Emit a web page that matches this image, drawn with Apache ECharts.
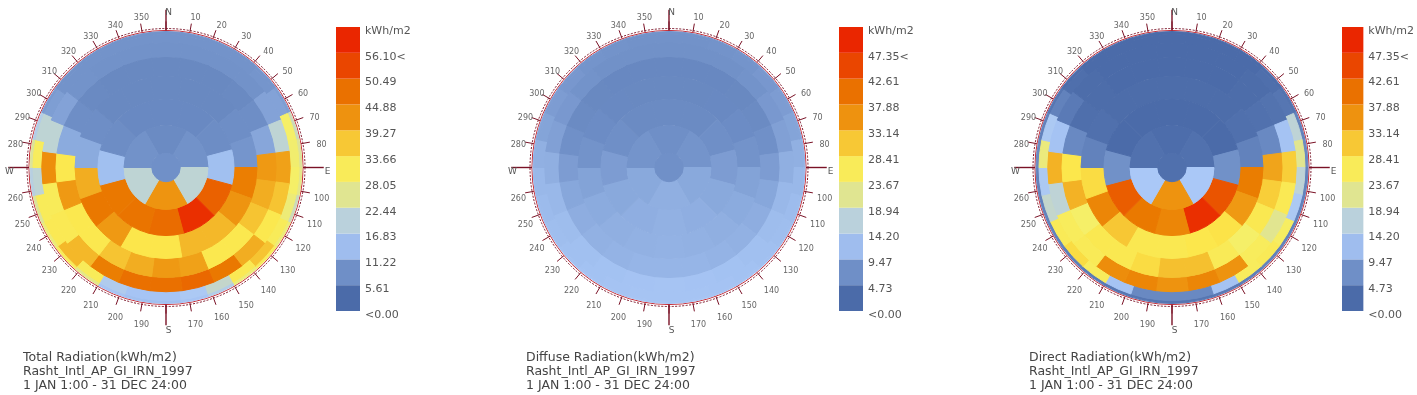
<!DOCTYPE html>
<html>
<head>
<meta charset="utf-8">
<title>Radiation Rose</title>
<script src="https://cdn.jsdelivr.net/npm/echarts@6/dist/echarts.min.js"></script>
<style>
    html, body { margin: 0; padding: 0; background: #fff; }
    #main { width: 1417px; height: 395px; }
</style>
</head>
<body>
<div id="main"></div>
<script>
// Sky patches: altitude edges of each band (outer band first) and how many patches sit in it
const bandAltitudes = [[0, 12], [12, 24], [24, 36], [36, 48], [48, 60], [60, 72], [72, 84], [84, 90]];
const bandCounts = [30, 30, 24, 24, 18, 12, 6, 1];

// Values per patch in kWh/m2, outer band first, clockwise from north
const totalValues = [
    [6.2, 6.2, 6.2, 6.2, 6.5, 7.5, 20, 22, 23, 20, 24, 28, 24, 15, 12, 11.5, 11.5, 12, 23, 28, 24, 22, 16, 22, 15, 7, 6.2, 6.2, 6.2, 6.2],
    [6.2, 6.2, 6.2, 6.2, 6.5, 8, 25, 24.5, 25, 24, 28, 34, 29, 19, 13, 12, 12, 14, 28, 35, 29, 28, 18, 27, 18, 7.5, 6.2, 6.2, 6.2, 6.2],
    [6, 6, 6, 6, 8, 18, 37, 34, 30, 36, 44, 46, 45, 45, 43, 35, 29, 28, 40, 18, 8, 6.2, 6, 6],
    [4.6, 4.6, 4.6, 4.8, 5.5, 8.5, 38, 36, 34, 30, 30, 37, 38, 36, 34, 30, 30, 38, 30, 9, 5.5, 4.8, 4.6, 4.6],
    [4.6, 4.6, 4.6, 5.5, 6.5, 43, 39, 35, 35, 31, 31, 38, 44, 36, 9, 5.5, 4.6, 4.6],
    [4.7, 4.7, 5.3, 11.5, 47, 54.5, 45.5, 44.5, 44, 11.5, 5.3, 4.7],
    [5, 6, 18, 39, 18, 6],
    [5.8]
];
const diffuseValues = [
    [5.2, 5.2, 5.3, 5.5, 5.8, 6.3, 7, 8.2, 9, 9.4, 9.6, 9.8, 10, 10.1, 10.2, 10.2, 10.2, 10.1, 10, 9.8, 9.6, 9.3, 9, 8.2, 7, 6.3, 5.8, 5.5, 5.3, 5.2],
    [5.1, 5.1, 5.2, 5.4, 5.7, 6.2, 6.9, 8.1, 8.9, 9.3, 9.5, 9.7, 9.9, 10, 10.1, 10.1, 10.1, 10, 9.9, 9.7, 9.5, 9.2, 8.9, 8.1, 6.9, 6.2, 5.7, 5.4, 5.2, 5.1],
    [5, 5, 5, 5.2, 5.8, 6.6, 8, 8.9, 9.4, 9.7, 9.9, 10, 10.1, 10, 9.9, 9.7, 9.4, 8.9, 8, 6.6, 5.8, 5.2, 5, 5],
    [3.8, 3.8, 3.8, 3.9, 4.2, 4.9, 6.2, 7.2, 7.8, 8.2, 8.4, 8.6, 8.6, 8.6, 8.4, 8.2, 7.8, 7.2, 6.2, 4.9, 4.2, 3.9, 3.8, 3.8],
    [3.9, 3.9, 4, 4.4, 5.2, 6.8, 7.6, 8, 8.2, 8.3, 8.2, 8, 7.6, 6.8, 5.2, 4.4, 4, 3.9],
    [4.2, 4.2, 4.8, 6.2, 7.4, 7.9, 8.2, 7.9, 7.4, 6.2, 4.8, 4.2],
    [4.8, 5.4, 7.4, 8, 7.4, 5.4],
    [4.9]
];
const directValues = [
    [0, 0, 0, 0, 0.3, 1, 3, 4, 3, 3, 3, 3, 2.5, 2, 1.5, 1.5, 1.5, 1.5, 2, 2.5, 3, 3, 3, 4, 3, 1.5, 0.3, 0, 0, 0],
    [0, 0, 0, 0, 0.5, 1.5, 15, 19, 15, 11, 22, 24, 23, 10, 4, 4, 4, 10, 23, 27, 24, 16, 11, 20, 11, 3, 0.5, 0, 0, 0],
    [0, 0, 0, 0.2, 1, 10, 28, 24.5, 19, 23, 33, 35, 33, 35, 34, 24, 23, 15, 30, 10, 2, 0.2, 0, 0],
    [0, 0, 0, 0.2, 0.8, 4, 31, 28, 25, 21, 24, 29, 29, 27, 25, 25, 21, 30, 26, 4, 0.5, 0.2, 0, 0],
    [0.2, 0.2, 0.2, 0.6, 3, 36.5, 32, 26.5, 26, 25, 25, 28.5, 35, 27, 3, 0.6, 0.2, 0.2],
    [0, 0, 0, 5, 41, 46, 35, 37, 40, 5, 0, 0],
    [0.3, 0.8, 10.5, 33, 10.5, 0.8],
    [0.7]
];

// Colour ramp of the rose and the stepped colours of the legend
const rampColors = [[75, 107, 169], [115, 147, 202], [170, 200, 247], [193, 213, 208], [245, 239, 103], [252, 230, 74], [239, 156, 21], [234, 123, 0], [234, 74, 0], [234, 38, 0]];
const totalLegend = ['<0.00', '5.61', '11.22', '16.83', '22.44', '28.05', '33.66', '39.27', '44.88', '50.49', '56.10<', 'kWh/m2'];
const otherLegend = ['<0.00', '4.73', '9.47', '14.20', '18.94', '23.67', '28.41', '33.14', '37.88', '42.61', '47.35<', 'kWh/m2'];
const legendSteps = [0, 1, 2, 3, 4, 5, 6, 7, 8, 9, 10];

const azimuthTicks = [10, 20, 30, 40, 50, 60, 70, 80, 100, 110, 120, 130, 140, 150, 160, 170, 190, 200, 210, 220, 230, 240, 250, 260, 280, 290, 300, 310, 320, 330, 340, 350];
const cardinalAngles = [0, 90, 180, 270];
const cardinalNames = ['N', 'E', 'S', 'W'];

const panels = [
    { values: totalValues, max: 56.1, legend: totalLegend, cx: 166, name: 'Total Radiation(kWh/m2)' },
    { values: diffuseValues, max: 47.35, legend: otherLegend, cx: 669, name: 'Diffuse Radiation(kWh/m2)' },
    { values: directValues, max: 47.35, legend: otherLegend, cx: 1172, name: 'Direct Radiation(kWh/m2)' }
];

const CY = 167.5;
const R = 136;
const FONT = '"DejaVu Sans", Verdana, sans-serif';

function rampColor(t) {
    let pos = Math.min(Math.max(t, 0), 1) * (rampColors.length - 1);
    let i = Math.min(Math.floor(pos), rampColors.length - 2);
    let f = pos - i;
    let c = rampColors[i].map((a, k) => Math.round(a + (rampColors[i + 1][k] - a) * f));
    return `rgb(${c[0]},${c[1]},${c[2]})`;
}

function patchRows(values) {
    let rows = [];
    values.forEach((band, b) => {
        let width = 360 / bandCounts[b];
        band.forEach((v, k) => {
            rows.push([
                Math.cos(bandAltitudes[b][1] * Math.PI / 180),
                Math.cos(bandAltitudes[b][0] * Math.PI / 180),
                k * width - width / 2,
                k * width + width / 2,
                v
            ]);
        });
    });
    return rows;
}

function renderPatch(max) {
    return function (params, api) {
        let cs = params.coordSys;
        let inner = api.coord([api.value(0), 0]);
        let outer = api.coord([api.value(1), 0]);
        let color = rampColor(api.value(4) / max);
        return {
            type: 'sector',
            shape: {
                cx: cs.cx,
                cy: cs.cy,
                r0: cs.cy - inner[1] < 1 ? 0 : cs.cy - inner[1],
                r: cs.cy - outer[1],
                startAngle: (api.value(2) - 90) * Math.PI / 180,
                endAngle: (api.value(3) - 90) * Math.PI / 180,
                clockwise: true
            },
            style: { fill: color, stroke: color, lineWidth: 1 }
        };
    };
}

function renderCardinal(params, api) {
    let az = api.value(0);
    let from = api.coord([1.008, az]);
    let to = api.coord([1.16, az]);
    let at = api.coord([1.17, az]);
    return {
        type: 'group',
        children: [
            { type: 'line', shape: { x1: from[0], y1: from[1], x2: to[0], y2: to[1] }, style: { stroke: '#7a1226', lineWidth: 1.4 } },
            { type: 'text', x: at[0] + 2.5, y: at[1] + 4, style: { text: cardinalNames[params.dataIndex], fill: '#555', font: '9px ' + FONT, align: 'center', verticalAlign: 'middle' } }
        ]
    };
}

function renderDegree(params, api) {
    let az = api.value(0);
    let at = api.coord([1.143, az]);
    return {
        type: 'text',
        x: at[0] + 2.5,
        y: at[1] + 4,
        style: { text: String(az), fill: '#666', font: '8px ' + FONT, align: 'center', verticalAlign: 'middle' }
    };
}

let option = {
    animation: false,
    backgroundColor: '#fff',
    title: [],
    polar: [],
    angleAxis: [],
    radiusAxis: [],
    grid: [],
    xAxis: [],
    yAxis: [],
    series: []
};

panels.forEach((p, i) => {
    option.title.push({
        text: `${p.name}\nRasht_Intl_AP_GI_IRN_1997\n1 JAN 1:00 - 31 DEC 24:00`,
        left: p.cx - 143,
        top: 351,
        padding: 0,
        textStyle: { fontFamily: FONT, fontSize: 12.5, fontWeight: 'normal', color: '#444', lineHeight: 14 }
    });
    option.polar.push({ center: [p.cx, CY], radius: R * 1.008 });
    option.radiusAxis.push({ polarIndex: i, type: 'value', min: 0, max: 1.008, show: false });
    option.angleAxis.push({
        polarIndex: i,
        type: 'value',
        min: 0,
        max: 360,
        interval: 10,
        startAngle: 90,
        axisLine: { lineStyle: { color: '#c8323c', width: 1 } },
        axisTick: { length: 9, lineStyle: { color: '#7a1226', width: 1 } },
        axisLabel: { show: false },
        splitLine: { show: false }
    });
    option.series.push({
        type: 'custom',
        coordinateSystem: 'polar',
        polarIndex: i,
        silent: true,
        data: patchRows(p.values),
        renderItem: renderPatch(p.max)
    });
    // dashed outer ring, drawn on the same polar scale
    option.series.push({
        type: 'custom',
        coordinateSystem: 'polar',
        polarIndex: i,
        silent: true,
        data: [[1.022]],
        renderItem: (params, api) => ({
            type: 'circle',
            shape: { cx: params.coordSys.cx, cy: params.coordSys.cy, r: params.coordSys.cy - api.coord([api.value(0), 0])[1] },
            style: { fill: 'none', stroke: '#7a1226', lineWidth: 1, lineDash: [2, 1.5] }
        })
    });
    option.series.push({
        type: 'custom',
        coordinateSystem: 'polar',
        polarIndex: i,
        silent: true,
        data: cardinalAngles.map(a => [a]),
        renderItem: renderCardinal
    });
    option.series.push({
        type: 'custom',
        coordinateSystem: 'polar',
        polarIndex: i,
        silent: true,
        data: azimuthTicks.map(a => [a]),
        renderItem: renderDegree
    });

    // legend as a small one-column grid
    option.grid.push({ left: p.cx + 170, top: 27, width: 24, height: 284 });
    option.xAxis.push({ gridIndex: i, type: 'value', min: 0, max: 1, show: false });
    option.yAxis.push({
        gridIndex: i,
        type: 'value',
        min: 0,
        max: 11,
        interval: 1,
        position: 'right',
        axisLine: { show: false },
        axisTick: { show: false },
        splitLine: { show: false },
        axisLabel: {
            margin: 5,
            color: '#555',
            fontFamily: FONT,
            fontSize: 11,
            showMinLabel: true,
            showMaxLabel: true,
            verticalAlign: 'top',
            lineHeight: 8,
            formatter: v => p.legend[v]
        }
    });
    option.series.push({
        type: 'custom',
        coordinateSystem: 'cartesian2d',
        xAxisIndex: i,
        yAxisIndex: i,
        silent: true,
        data: legendSteps.map(s => [s]),
        renderItem: (params, api) => {
            let s = api.value(0);
            let a = api.coord([0, s + 1]);
            let b = api.coord([1, s]);
            return {
                type: 'rect',
                shape: { x: a[0], y: a[1], width: b[0] - a[0], height: b[1] - a[1] },
                style: { fill: rampColor(s / 10) }
            };
        }
    });
});

let myChart = echarts.init(document.getElementById('main'));
myChart.setOption(option);
</script>
</body>
</html>
